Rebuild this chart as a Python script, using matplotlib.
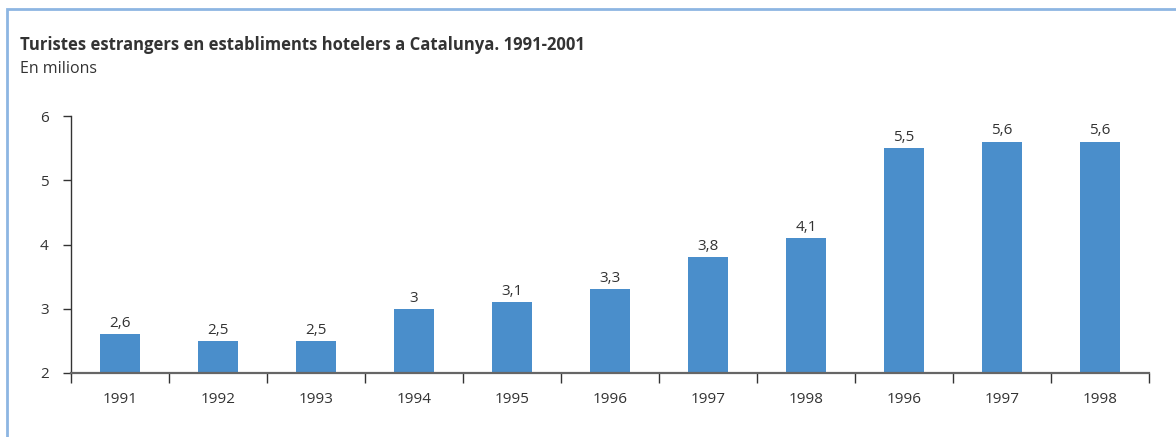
import matplotlib.pyplot as plt
from matplotlib.patches import Rectangle

# data
years = ["1991", "1992", "1993", "1994", "1995", "1996", "1997", "1998", "1996", "1997", "1998"]
tourists = [2.6, 2.5, 2.5, 3, 3.1, 3.3, 3.8, 4.1, 5.5, 5.6, 5.6]
yticks = [2, 3, 4, 5, 6]

plt.rcParams['font.family'] = ['Open Sans', 'DejaVu Sans']
txt = '#333333'
bar_color = '#4a8ecb'

fig = plt.figure(figsize=(11.76, 4.37), dpi=100)
W, H = 1176, 437
ax = fig.add_axes([71 / W, 1 - 373 / H, (1149 - 71) / W, (373 - 116) / H])

n = list(range(len(years)))
ax.bar(n, [v - 2 for v in tourists], bottom=2, width=0.4, color=bar_color, zorder=2)

for i, v in zip(n, tourists):
    lab = ('%g' % v).replace('.', ',')
    ax.text(i, v + 0.05, lab, ha='center', va='bottom', fontsize=11, color=txt)

ax.set_xlim(-0.5, len(years) - 0.5)
ax.set_ylim(2, 6)
ax.set_yticks(yticks)
ax.set_yticklabels([str(t) for t in yticks], fontsize=11, color=txt)

ax.set_xticks(n)
ax.set_xticklabels(years, fontsize=11, color=txt)
ax.set_xticks([i - 0.5 for i in range(len(years) + 1)], minor=True)
ax.tick_params(axis='x', which='major', direction='in', length=5, width=1, color='#333333', pad=14)
ax.tick_params(axis='x', which='minor', direction='out', length=7, width=1, color='#333333')
ax.tick_params(axis='y', direction='out', length=6, width=1, color='#333333', pad=10)

for s in ['top', 'right']:
    ax.spines[s].set_visible(False)
ax.spines['bottom'].set_color('#666666')
ax.spines['bottom'].set_linewidth(1.6)
ax.spines['bottom'].set_zorder(3)
ax.spines['left'].set_color('#333333')
ax.spines['left'].set_linewidth(1)

fig.text(20 / W, 1 - 45 / H, "Turistes estrangers en establiments hotelers a Catalunya. 1991-2001",
         fontsize=12, fontweight='bold', color=txt, va='center')
fig.text(20 / W, 1 - 69 / H, "En milions", fontsize=11.5, color=txt, va='center')

# light blue frame, left and top edges visible
fig.patches.append(Rectangle((7 / W, -0.1), 1.2, 1 - 9 / H + 0.1, transform=fig.transFigure,
                             fill=False, edgecolor='#8db6e2', linewidth=2))

fig.savefig("out.png", dpi=100)
